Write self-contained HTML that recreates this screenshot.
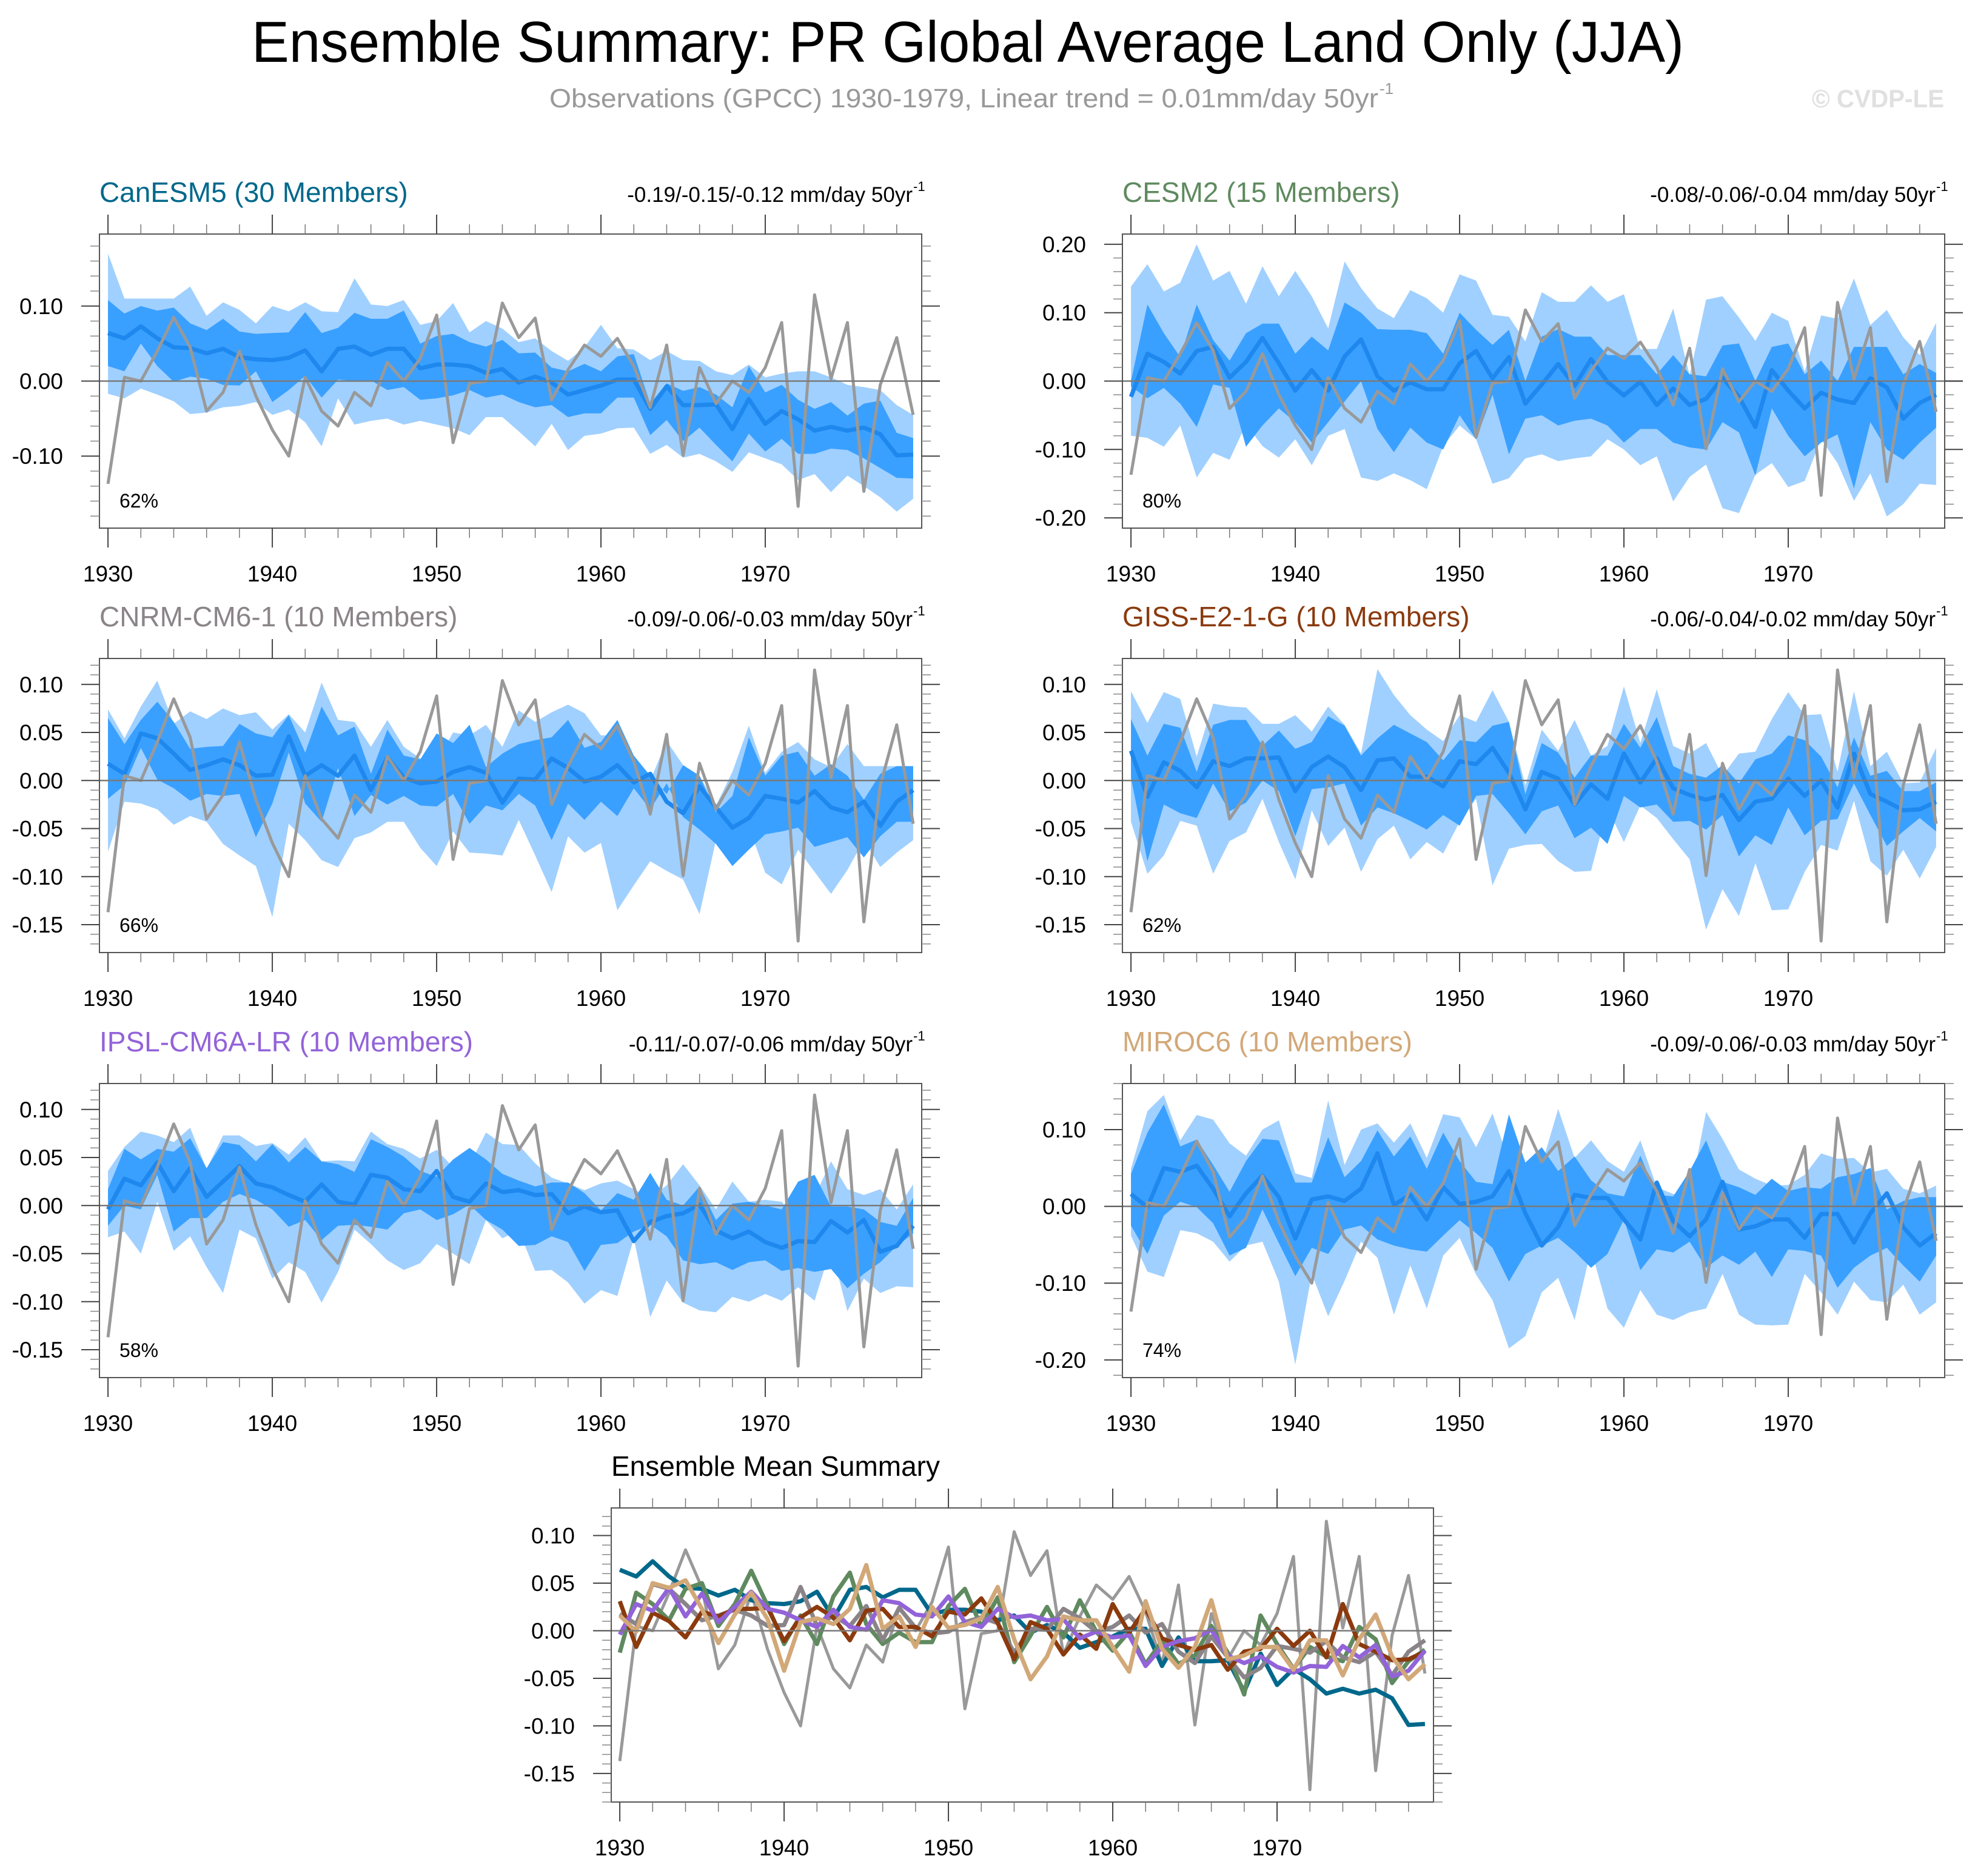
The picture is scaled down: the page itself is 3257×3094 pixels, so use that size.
<!DOCTYPE html>
<html><head><meta charset="utf-8"><style>
html,body{margin:0;padding:0;background:#fff;}
svg{display:block;font-family:"Liberation Sans",Arial,sans-serif;}
</style></head><body>
<svg id="chart" xmlns="http://www.w3.org/2000/svg" width="3257" height="3094" viewBox="0 0 3257 3094">
<rect x="0" y="0" width="3257" height="3094" fill="#fff"/>
<text x="415" y="102" font-size="96" textLength="2362" lengthAdjust="spacingAndGlyphs" fill="#000">Ensemble Summary: PR Global Average Land Only (JJA)</text>
<text x="906" y="177" font-size="44" fill="#999" textLength="1367" lengthAdjust="spacingAndGlyphs">Observations (GPCC) 1930-1979, Linear trend = 0.01mm/day 50yr</text>
<text x="2275" y="155" font-size="26" fill="#999">-1</text>
<text x="2988" y="177" font-size="42" font-weight="bold" fill="#e0e0e0" textLength="218" lengthAdjust="spacingAndGlyphs">© CVDP-LE</text>
<g id="panels"></g>
</svg>
<script>
const years = [];
for (let y = 1930; y <= 1979; y++) years.push(y);

const obs = [-0.137,0.005,0.0,0.04,0.085,0.045,-0.04,-0.015,0.04,-0.02,-0.065,-0.1,0.005,-0.04,-0.06,-0.015,-0.033,0.025,0.0,0.03,0.088,-0.082,-0.003,0.0,0.104,0.058,0.084,-0.025,0.015,0.048,0.033,0.057,0.02,-0.035,0.048,-0.099,0.018,-0.03,0.0,-0.015,0.018,0.078,-0.167,0.115,0.003,0.078,-0.147,-0.005,0.058,-0.045];

const canMean = [0.064,0.057,0.073,0.057,0.045,0.044,0.037,0.043,0.032,0.029,0.028,0.031,0.041,0.013,0.043,0.046,0.035,0.043,0.043,0.017,0.022,0.022,0.02,0.011,0.016,-0.002,0.006,-0.002,-0.018,-0.012,-0.006,0.002,0.002,-0.037,-0.007,-0.032,-0.032,-0.031,-0.064,-0.024,-0.057,-0.04,-0.051,-0.066,-0.061,-0.066,-0.062,-0.071,-0.099,-0.098];
const canUp2 = [0.17,0.11,0.11,0.11,0.11,0.126,0.087,0.105,0.095,0.077,0.1,0.093,0.105,0.093,0.092,0.137,0.102,0.1,0.108,0.075,0.08,0.104,0.065,0.08,0.07,0.052,0.057,0.04,0.027,0.045,0.075,0.044,0.042,0.028,0.04,0.028,0.027,0.013,0.008,0.022,0.005,0.01,0.013,0.013,0.005,-0.005,-0.008,-0.012,-0.032,-0.045];
const canUp1 = [0.108,0.09,0.1,0.094,0.098,0.077,0.068,0.083,0.066,0.063,0.064,0.065,0.092,0.064,0.071,0.091,0.083,0.083,0.094,0.05,0.06,0.063,0.052,0.046,0.055,0.037,0.038,0.018,0.013,0.023,0.013,0.033,0.036,-0.03,-0.003,-0.013,-0.008,-0.018,-0.035,0.02,-0.015,-0.005,-0.025,-0.037,-0.028,-0.046,-0.03,-0.026,-0.069,-0.076];
const canLo1 = [0.02,0.013,0.05,0.02,-0.001,0.006,0.003,-0.005,-0.006,0.013,-0.028,-0.012,0.007,-0.022,0.002,0.0,0.001,-0.012,-0.008,-0.025,-0.023,-0.019,-0.012,-0.022,-0.018,-0.028,-0.035,-0.032,-0.048,-0.043,-0.043,-0.022,-0.022,-0.072,-0.052,-0.08,-0.062,-0.085,-0.107,-0.07,-0.094,-0.077,-0.097,-0.097,-0.09,-0.092,-0.103,-0.116,-0.129,-0.13];
const canLo2 = [-0.017,-0.023,-0.01,-0.018,-0.027,-0.044,-0.042,-0.035,-0.033,-0.028,-0.045,-0.038,-0.055,-0.087,-0.023,-0.058,-0.053,-0.05,-0.058,-0.053,-0.058,-0.063,-0.072,-0.048,-0.048,-0.067,-0.087,-0.057,-0.092,-0.073,-0.07,-0.063,-0.062,-0.097,-0.085,-0.102,-0.097,-0.107,-0.121,-0.095,-0.103,-0.111,-0.132,-0.124,-0.148,-0.126,-0.14,-0.155,-0.174,-0.157];

const cesmMean = [-0.023,0.04,0.028,0.011,0.044,0.05,0.005,0.028,0.063,0.026,-0.014,0.016,-0.014,0.036,0.061,0.007,-0.014,-0.002,-0.012,-0.012,0.026,0.044,0.004,0.035,-0.033,-0.005,0.025,-0.007,0.032,-0.001,-0.021,-0.001,-0.035,-0.011,-0.035,-0.026,0.005,-0.023,-0.067,0.016,-0.014,-0.04,-0.017,-0.027,-0.032,0.004,-0.009,-0.055,-0.032,-0.02];
const cesmUp2 = [0.138,0.171,0.131,0.144,0.2,0.147,0.161,0.113,0.168,0.124,0.161,0.124,0.077,0.175,0.136,0.106,0.092,0.133,0.121,0.1,0.156,0.147,0.097,0.094,0.058,0.13,0.116,0.116,0.14,0.116,0.127,0.047,0.047,0.106,0.008,0.119,0.124,0.093,0.059,0.1,0.088,0.014,0.096,0.091,0.15,0.082,0.104,0.064,0.038,0.085];
const cesmUp1 = [0.0,0.112,0.07,0.035,0.112,0.06,0.03,0.07,0.084,0.084,0.04,0.065,0.045,0.115,0.1,0.076,0.075,0.075,0.07,0.04,0.1,0.075,0.053,0.075,0.0,0.065,0.076,0.065,0.065,0.038,0.038,0.038,0.01,0.038,0.01,0.007,0.052,0.055,0.0,0.05,0.055,0.01,0.03,0.0,0.05,0.05,0.05,0.01,0.025,0.012];
const cesmLo1 = [-0.008,-0.025,-0.01,-0.033,-0.067,-0.005,-0.01,-0.096,-0.065,-0.04,-0.06,-0.09,-0.06,-0.03,0.0,-0.07,-0.104,-0.068,-0.09,-0.1,-0.05,-0.085,-0.02,-0.107,-0.055,-0.05,-0.065,-0.058,-0.055,-0.065,-0.09,-0.07,-0.07,-0.09,-0.097,-0.1,-0.06,-0.075,-0.138,-0.04,-0.08,-0.11,-0.09,-0.078,-0.157,-0.06,-0.1,-0.115,-0.09,-0.068];
const cesmLo2 = [-0.08,-0.083,-0.096,-0.065,-0.141,-0.105,-0.115,-0.063,-0.095,-0.112,-0.085,-0.123,-0.08,-0.07,-0.141,-0.146,-0.135,-0.145,-0.158,-0.095,-0.065,-0.085,-0.15,-0.142,-0.113,-0.107,-0.117,-0.113,-0.11,-0.085,-0.1,-0.123,-0.11,-0.176,-0.14,-0.122,-0.186,-0.193,-0.137,-0.12,-0.155,-0.146,-0.085,-0.12,-0.175,-0.135,-0.198,-0.18,-0.15,-0.152];

const cnrmMean = [0.0175,0.007,0.049,0.044,0.028,0.011,0.016,0.022,0.016,0.005,0.006,0.046,0.005,0.016,0.005,0.026,-0.01,0.024,0.003,-0.003,-0.001,0.009,0.014,0.008,-0.023,0.002,0.001,0.023,0.013,-0.001,0.004,0.016,-0.002,0.007,-0.022,-0.034,-0.006,-0.028,-0.049,-0.039,-0.016,-0.019,-0.023,-0.011,-0.028,-0.033,-0.022,-0.047,-0.022,-0.01];
const cnrmUp2 = [0.074,0.044,0.077,0.104,0.059,0.072,0.064,0.075,0.068,0.071,0.053,0.069,0.05,0.102,0.063,0.061,0.035,0.063,0.035,0.023,0.02,0.05,0.047,0.058,0.035,0.073,0.061,0.071,0.079,0.07,0.047,0.047,0.02,0.0,0.041,0.016,0.005,-0.026,0.009,0.057,0.008,0.03,0.04,0.022,0.014,0.038,0.015,0.015,0.015,0.015];
const cnrmUp1 = [0.065,0.038,0.063,0.082,0.061,0.033,0.035,0.036,0.059,0.049,0.045,0.068,0.029,0.077,0.047,0.056,0.007,0.053,0.026,0.022,0.049,0.039,0.058,0.014,0.028,0.038,0.042,0.045,0.063,0.034,0.04,0.063,0.026,0.005,-0.014,0.016,0.005,-0.033,-0.016,0.045,0.005,0.026,0.03,0.005,0.017,0.005,-0.02,0.007,0.015,0.015];
const cnrmLo1 = [-0.019,-0.005,0.034,0.001,-0.008,-0.021,-0.014,-0.016,-0.014,-0.059,-0.024,0.029,-0.024,-0.043,0.013,-0.037,-0.015,-0.025,-0.016,-0.026,-0.027,-0.014,-0.045,-0.026,-0.031,-0.014,-0.026,-0.062,-0.024,-0.041,-0.022,-0.037,-0.008,-0.03,-0.003,-0.038,-0.051,-0.066,-0.089,-0.072,-0.056,-0.053,-0.049,-0.069,-0.064,-0.059,-0.08,-0.058,-0.043,-0.043];
const cnrmLo2 = [-0.074,-0.022,-0.024,-0.03,-0.046,-0.037,-0.043,-0.066,-0.078,-0.089,-0.142,-0.045,-0.062,-0.083,-0.09,-0.06,-0.054,-0.043,-0.043,-0.07,-0.089,-0.053,-0.075,-0.076,-0.078,-0.041,-0.078,-0.116,-0.058,-0.075,-0.065,-0.135,-0.109,-0.084,-0.094,-0.103,-0.139,-0.062,-0.059,-0.048,-0.096,-0.108,-0.072,-0.095,-0.118,-0.093,-0.062,-0.09,-0.075,-0.062];

const gissMean = [0.031,-0.017,0.019,0.01,-0.007,0.02,0.015,0.023,0.023,0.024,-0.011,0.014,0.025,0.014,-0.01,0.021,0.023,0.004,0.004,-0.006,0.02,0.017,0.034,0.008,-0.03,0.009,0.002,-0.025,-0.004,-0.019,0.028,-0.002,0.023,-0.008,-0.015,-0.02,-0.015,-0.041,-0.022,-0.019,0.002,-0.016,0.0,-0.028,0.028,-0.014,-0.022,-0.031,-0.03,-0.022];
const gissUp2 = [0.093,0.06,0.092,0.085,0.025,0.08,0.077,0.076,0.059,0.059,0.068,0.051,0.077,0.058,0.028,0.116,0.089,0.068,0.053,0.041,0.068,0.061,0.094,0.061,-0.005,0.053,0.031,0.063,0.026,0.036,0.098,0.039,0.095,0.036,0.028,0.039,0.005,0.028,0.03,0.064,0.092,0.068,0.069,0.009,0.093,0.015,0.03,-0.003,-0.002,0.034];
const gissUp1 = [0.064,0.026,0.059,0.055,0.009,0.058,0.063,0.063,0.036,0.052,0.033,0.04,0.067,0.057,0.026,0.044,0.058,0.049,0.04,0.021,0.042,0.04,0.057,0.061,-0.014,0.039,0.029,0.003,0.026,0.026,0.059,0.034,0.066,0.015,0.007,0.003,0.016,-0.003,0.022,0.028,0.047,0.042,0.025,-0.007,0.045,0.005,0.01,-0.011,-0.011,-0.002];
const gissLo1 = [0.003,-0.084,-0.025,-0.034,-0.039,-0.003,-0.032,-0.023,0.0,-0.011,-0.058,-0.009,-0.007,-0.003,-0.047,-0.028,-0.034,-0.042,-0.051,-0.036,-0.047,-0.016,-0.014,-0.034,-0.056,-0.032,-0.026,-0.06,-0.049,-0.066,-0.016,-0.028,-0.025,-0.043,-0.042,-0.051,-0.036,-0.079,-0.057,-0.067,-0.028,-0.057,-0.042,-0.04,-0.003,-0.036,-0.068,-0.053,-0.039,-0.053];
const gissLo2 = [-0.043,-0.097,-0.078,-0.042,-0.047,-0.097,-0.063,-0.054,-0.019,-0.064,-0.103,-0.031,-0.068,-0.049,-0.095,-0.061,-0.047,-0.082,-0.064,-0.076,-0.043,-0.019,-0.109,-0.071,-0.067,-0.066,-0.084,-0.095,-0.094,-0.029,-0.064,-0.026,-0.039,-0.061,-0.082,-0.155,-0.113,-0.141,-0.086,-0.135,-0.134,-0.095,-0.067,-0.073,-0.021,-0.084,-0.099,-0.072,-0.102,-0.069];

const ipslMean = [-0.004,0.028,0.021,0.045,0.015,0.039,0.009,0.025,0.041,0.023,0.019,0.011,0.004,0.022,0.004,0.001,0.032,0.029,0.017,0.015,0.036,0.009,0.004,0.023,0.014,0.016,0.011,0.012,-0.008,-0.001,-0.007,-0.005,-0.037,-0.017,-0.011,-0.008,0.001,-0.026,-0.034,-0.027,-0.038,-0.044,-0.037,-0.038,-0.016,-0.028,-0.015,-0.048,-0.042,-0.021];
const ipslUp2 = [0.036,0.061,0.077,0.073,0.066,0.081,0.038,0.073,0.073,0.062,0.065,0.053,0.071,0.046,0.047,0.046,0.077,0.064,0.059,0.049,0.058,0.04,0.042,0.076,0.064,0.063,0.044,0.029,0.023,0.016,0.023,0.026,0.017,0.008,0.021,0.043,0.021,-0.004,0.025,0.004,0.006,0.004,-0.015,0.009,0.046,0.017,0.011,0.017,-0.004,0.022];
const ipslUp1 = [0.017,0.059,0.048,0.059,0.056,0.07,0.039,0.066,0.063,0.046,0.064,0.045,0.061,0.046,0.043,0.035,0.069,0.061,0.051,0.036,0.03,0.048,0.06,0.048,0.033,0.026,0.02,0.024,0.024,0.013,-0.005,0.013,0.006,0.034,0.006,0.0,0.02,-0.015,0.002,0.004,0.0,-0.004,0.025,0.032,-0.001,-0.001,-0.004,-0.017,-0.021,0.008];
const ipslLo1 = [-0.021,0.0,-0.004,0.032,-0.027,-0.013,-0.013,0.004,0.012,0.006,-0.004,-0.022,-0.015,-0.036,-0.021,-0.02,-0.022,-0.025,-0.008,-0.004,-0.015,-0.009,0.001,-0.015,-0.025,-0.042,-0.041,-0.032,-0.038,-0.068,-0.041,-0.039,-0.027,-0.02,-0.032,-0.057,-0.061,-0.059,-0.067,-0.059,-0.057,-0.068,-0.065,-0.069,-0.066,-0.086,-0.071,-0.059,-0.042,-0.029];
const ipslLo2 = [-0.033,-0.027,-0.05,0.004,-0.047,-0.032,-0.064,-0.091,-0.025,-0.034,-0.076,-0.059,-0.069,-0.101,-0.069,-0.025,-0.04,-0.057,-0.067,-0.06,-0.04,-0.05,-0.061,-0.015,-0.034,-0.026,-0.068,-0.067,-0.08,-0.102,-0.088,-0.094,-0.034,-0.116,-0.078,-0.101,-0.109,-0.111,-0.095,-0.1,-0.092,-0.099,-0.085,-0.099,-0.044,-0.11,-0.076,-0.091,-0.084,-0.085];

const mirocMean = [0.016,-0.001,0.05,0.045,0.053,0.023,-0.013,0.017,0.04,0.012,-0.042,0.009,0.013,0.007,0.023,0.069,0.002,0.015,-0.017,0.025,0.003,0.006,0.013,0.046,-0.009,-0.051,-0.027,0.015,0.011,0.011,-0.017,-0.043,0.031,-0.019,-0.039,-0.017,0.032,-0.03,-0.026,-0.017,-0.017,-0.041,-0.01,-0.01,-0.047,-0.009,0.017,-0.027,-0.051,-0.035];
const mirocUp2 = [0.049,0.124,0.145,0.086,0.119,0.113,0.082,0.066,0.1,0.112,0.043,0.037,0.138,0.054,0.1,0.108,0.083,0.108,0.063,0.12,0.116,0.077,0.121,0.059,0.031,0.054,0.127,0.063,0.086,0.059,0.045,0.086,0.025,0.016,0.013,0.123,0.088,0.048,0.036,0.027,0.028,0.041,0.069,0.062,0.063,0.044,0.049,0.023,0.017,0.027];
const mirocUp1 = [0.042,0.096,0.133,0.078,0.087,0.054,0.019,0.059,0.088,0.086,0.031,0.031,0.09,0.038,0.059,0.099,0.065,0.091,0.049,0.096,0.059,0.032,0.029,0.12,0.057,0.077,0.046,0.065,0.034,0.017,0.013,0.066,0.015,0.013,0.046,0.086,0.032,0.025,0.015,0.036,0.02,0.025,0.023,0.038,0.042,0.05,-0.004,0.007,0.012,0.012];
const mirocLo1 = [-0.025,-0.062,-0.012,0.006,-0.001,-0.022,-0.064,-0.054,-0.004,-0.048,-0.091,-0.054,-0.062,-0.03,-0.025,-0.043,-0.051,-0.056,-0.059,-0.038,-0.018,-0.035,-0.054,-0.098,-0.062,-0.051,-0.041,-0.059,-0.08,-0.062,-0.017,-0.083,-0.056,-0.06,-0.046,-0.08,-0.064,-0.076,-0.059,-0.092,-0.056,-0.058,-0.064,-0.106,-0.08,-0.064,-0.054,-0.077,-0.098,-0.064];
const mirocLo2 = [-0.038,-0.085,-0.092,-0.031,-0.035,-0.046,-0.072,-0.051,-0.046,-0.098,-0.206,-0.088,-0.143,-0.097,-0.046,-0.067,-0.141,-0.077,-0.133,-0.064,-0.041,-0.089,-0.122,-0.185,-0.169,-0.112,-0.093,-0.148,-0.056,-0.133,-0.158,-0.109,-0.141,-0.148,-0.138,-0.133,-0.088,-0.141,-0.154,-0.155,-0.154,-0.088,-0.112,-0.141,-0.098,-0.122,-0.125,-0.102,-0.141,-0.125];

const modelNames = ["CanESM5 (30 Members)","CESM2 (15 Members)","CNRM-CM6-1 (10 Members)","GISS-E2-1-G (10 Members)","IPSL-CM6A-LR (10 Members)","MIROC6 (10 Members)"];
const trendLabels = ["-0.19/-0.15/-0.12","-0.08/-0.06/-0.04","-0.09/-0.06/-0.03","-0.06/-0.04/-0.02","-0.11/-0.07/-0.06","-0.09/-0.06/-0.03"];
const pctLabels = ["62%","80%","66%","62%","58%","74%"];
const xTickLabels = ["1930","1940","1950","1960","1970"];

const NS = "http://www.w3.org/2000/svg";
const root = document.getElementById("panels");
const BW = 1356, BH = 485;
const modelColors = ["#00688b","#5f8a5f","#8a8488","#8b3a0e","#9363d9","#d2a878"];

function mk(tag, attrs, parent) {
  const e = document.createElementNS(NS, tag);
  for (const k in attrs) e.setAttribute(k, attrs[k]);
  (parent || root).appendChild(e);
  return e;
}

function panel(cfg) {
  const g = mk("g", {});
  
  
  const L = cfg.x, T = cfg.y;
  const sx = v => L + (v - 1929.48) / (1979.52 - 1929.48) * BW;
  const sy = v => T + (cfg.ymax - v) / (cfg.ymax - cfg.ymin) * BH;
  mk("rect", {x: L, y: T, width: BW, height: BH, fill: "#fff"}, g);
  const clip = "clip-" + cfg.name;
  const cp = mk("clipPath", {id: clip}, g);
  mk("rect", {x: L, y: T, width: BW, height: BH}, cp);
  const inner = mk("g", {"clip-path": "url(#" + clip + ")"}, g);
  function band(up, lo, col, nm) {
    let d = "";
    up.forEach((v, i) => { d += (i ? "L" : "M") + sx(years[i]).toFixed(1) + "," + sy(v).toFixed(1); });
    for (let i = lo.length - 1; i >= 0; i--) d += "L" + sx(years[i]).toFixed(1) + "," + sy(lo[i]).toFixed(1);
    const p = mk("path", {d: d + "Z", fill: col}, inner);
    
    
  }
  function line(vals, col, w, nm) {
    const pts = vals.map((v, i) => sx(years[i]).toFixed(1) + "," + sy(v).toFixed(1)).join(" ");
    const p = mk("polyline", {points: pts, fill: "none", stroke: col, "stroke-width": w, "stroke-linejoin": "round"}, inner);
    
    
  }
  if (cfg.up2) {
    band(cfg.up2, cfg.lo2, "#a0d0ff", "outer-spread-band");
    band(cfg.up1, cfg.lo1, "#3aa0ff", "inner-spread-band");
  }
  const z = mk("line", {x1: L, x2: L + BW + 30, y1: sy(0), y2: sy(0), stroke: "#7a7a7a", "stroke-width": 2.5}, g);
  
  
  if (cfg.mean) line(cfg.mean, "#1e88ee", 7, "ensemble-mean-line");
  line(obs, "#999", 5, "observations-line");
  if (cfg.multi) {
    cfg.multi.forEach((m, i) => line(m, modelColors[i], 7, "model-mean-line-" + (i + 1)));
  }
  mk("rect", {x: L, y: T, width: BW, height: BH, fill: "none", stroke: "#555", "stroke-width": 2}, g);
  for (let yr = 1930; yr <= 1979; yr += 2) {
    const major = (yr % 10 === 0);
    const len = major ? 32 : 16;
    const X = sx(yr);
    mk("line", {x1: X, x2: X, y1: T + BH, y2: T + BH + len, stroke: major ? "#444" : "#777", "stroke-width": major ? 2 : 1.5}, g);
    mk("line", {x1: X, x2: X, y1: T, y2: T - len, stroke: major ? "#444" : "#777", "stroke-width": major ? 2 : 1.5}, g);
  }
  xTickLabels.forEach(lbl => {
    const t = mk("text", {x: sx(+lbl), y: T + BH + 88, "font-size": 37, "text-anchor": "middle", fill: "#000"}, g);
    t.textContent = lbl;
    
    
  });
  const nMinor = Math.round(cfg.ymax / cfg.minor) + 20;
  for (let k = -nMinor; k <= nMinor; k++) {
    const v = k * cfg.minor;
    if (v > cfg.ymax + 1e-9 || v < cfg.ymin - 1e-9) continue;
    const r = v / cfg.major;
    const major = Math.abs(r - Math.round(r)) < 1e-6;
    const len = major ? 30 : 15;
    const Y = sy(v);
    mk("line", {x1: L, x2: L - len, y1: Y, y2: Y, stroke: major ? "#444" : "#888", "stroke-width": major ? 2 : 1.5}, g);
    mk("line", {x1: L + BW, x2: L + BW + len, y1: Y, y2: Y, stroke: major ? "#444" : "#888", "stroke-width": major ? 2 : 1.5}, g);
    if (major) {
      const t = mk("text", {x: L - 60, y: Y + 13, "font-size": 37, "text-anchor": "end", fill: "#000"}, g);
      t.textContent = v.toFixed(2).replace("-0.00", "0.00");
      
      
    }
  }
  const tt = mk("text", {x: L, y: T - 53, "font-size": 46, fill: cfg.titleColor}, g);
  tt.textContent = cfg.title;
  
  
  if (cfg.trend) {
    const tr = mk("text", {x: L + BW - 15, y: T - 53, "font-size": 35, "text-anchor": "end", fill: "#000"}, g);
    tr.textContent = cfg.trend + " mm/day 50yr";
    
    
    const sp = mk("text", {x: L + BW - 14, y: T - 71, "font-size": 22, fill: "#000"}, g);
    sp.textContent = "-1";
    
    
  }
  if (cfg.pct) {
    const pt = mk("text", {x: L + 33, y: T + BH - 34, "font-size": 32, fill: "#000"}, g);
    pt.textContent = cfg.pct;
    
    
  }
}

const P = [
  {x:164, y:386, ymin:-0.196, ymax:0.196, major:0.1, minor:0.02, mean:canMean, up2:canUp2, up1:canUp1, lo1:canLo1, lo2:canLo2},
  {x:1851, y:386, ymin:-0.215, ymax:0.215, major:0.1, minor:0.02, mean:cesmMean, up2:cesmUp2, up1:cesmUp1, lo1:cesmLo1, lo2:cesmLo2},
  {x:164, y:1086, ymin:-0.179, ymax:0.127, major:0.05, minor:0.01, mean:cnrmMean, up2:cnrmUp2, up1:cnrmUp1, lo1:cnrmLo1, lo2:cnrmLo2},
  {x:1851, y:1086, ymin:-0.179, ymax:0.127, major:0.05, minor:0.01, mean:gissMean, up2:gissUp2, up1:gissUp1, lo1:gissLo1, lo2:gissLo2},
  {x:164, y:1787, ymin:-0.179, ymax:0.127, major:0.05, minor:0.01, mean:ipslMean, up2:ipslUp2, up1:ipslUp1, lo1:ipslLo1, lo2:ipslLo2},
  {x:1851, y:1787, ymin:-0.223, ymax:0.16, major:0.1, minor:0.02, mean:mirocMean, up2:mirocUp2, up1:mirocUp1, lo1:mirocLo1, lo2:mirocLo2}
];
const panelIds = ["canesm5-panel","cesm2-panel","cnrm-panel","giss-panel","ipsl-panel","miroc6-panel"];
P.forEach((c, i) => {
  c.name = panelIds[i];
  c.title = modelNames[i];
  c.titleColor = modelColors[i];
  c.trend = trendLabels[i];
  c.pct = pctLabels[i];
  panel(c);
});
panel({x:1008, y:2487, ymin:-0.18, ymax:0.129, major:0.05, minor:0.01, name:"ensemble-mean-summary-panel",
  title:"Ensemble Mean Summary", titleColor:"#000",
  multi:[canMean, cesmMean, cnrmMean, gissMean, ipslMean, mirocMean]});
</script>
</body></html>
